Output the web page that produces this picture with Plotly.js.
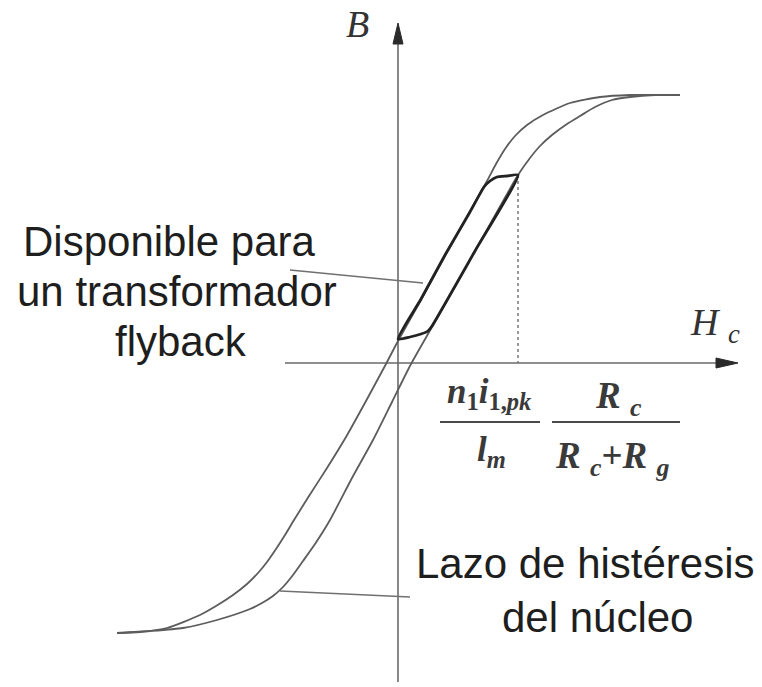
<!DOCTYPE html>
<html>
<head>
<meta charset="utf-8">
<script src="https://cdn.plot.ly/plotly-3.0.1.min.js"></script>
<style>
  html, body { margin: 0; padding: 0; background: #ffffff; }
  #chart { width: 762px; height: 687px; }
</style>
</head>
<body>
<div id="chart"></div>
<script>
// Core B-H hysteresis loop (field H to the right, flux density B upward).
// Descending (left-hand) branch, from negative to positive saturation.
const descendingH = [-281, -258, -231, -198, -182, -165, -151, -140, -131, -122, -113, -104, -89, -71, -52, -32, -12, 0, 23, 47, 72, 89, 98, 107, 117, 129, 145, 172, 202, 232, 282];
const descendingB = [-270, -269, -265, -252, -243, -232, -221, -210, -199, -186, -172, -157, -133, -105, -74, -38, -1, 22, 63, 107, 152, 182, 199, 214, 227, 238, 248, 260, 266, 268, 268];

// Ascending (right-hand) branch.
const ascendingH = [-281, -248, -215, -181, -148, -136, -125, -115, -105, -95, -83, -68, -46, -25, -6, 13, 34, 77, 120, 132, 142, 154, 169, 182, 197, 214, 232, 257, 282];
const ascendingB = [-270, -268, -265, -257, -246, -240, -233, -224, -212, -198, -181, -157, -115, -77, -39, -1, 36, 112, 188, 205, 217, 228, 239, 247, 256, 263, 266, 268, 268];

// Minor loop available to a flyback transformer.
const flybackH = [0, 23, 47, 72, 86, 92, 99, 109, 120, 77, 34, 30, 23, 12, 0];
const flybackB = [24, 64, 108, 151, 176, 182, 186, 187, 188, 112, 37, 32, 29, 26, 24];

// Peak field of the flyback operating point.
const peakH = [120, 120];
const peakB = [188, 0];

// Axes and arrow heads.
const hAxisH = [-113, 322];
const hAxisB = [0, 0];
const hArrowH = [318, 340, 318, 318];
const hArrowB = [5, 0, -5, 5];
const bAxisH = [0, 0];
const bAxisB = [-319, 322];
const bArrowH = [-5, 0, 5, -5];
const bArrowB = [319, 340, 319, 319];

// Leader lines from the labels.
const flybackLeaderH = [-108, 25];
const flybackLeaderB = [93, 80];
const loopLeaderH = [-118, 12];
const loopLeaderB = [-228, -234];

// Fraction bars of the peak-field expression.
const bar1H = [42, 142];
const bar1B = [-59, -59];
const bar2H = [154, 282];
const bar2B = [-59, -59];

// Label texts.
const flybackLabel = ['Disponible para', 'un transformador', 'flyback'];
const loopLabel = ['Lazo de histéresis', 'del núcleo'];

function line(x, y, color, width, extra) {
  return Object.assign({
    type: 'scatter', mode: 'lines', x: x, y: y, hoverinfo: 'skip',
    line: { color: color, width: width }
  }, extra || {});
}

const branchLine = { color: '#5c5c5c', width: 1.8, shape: 'spline', smoothing: 0.6 };

const traces = [
  line(hAxisH, hAxisB, '#6a6a6a', 1.6),
  line(bAxisH, bAxisB, '#6a6a6a', 1.6),
  line(hArrowH, hArrowB, '#2a2a2a', 1, { fill: 'toself', fillcolor: '#2a2a2a' }),
  line(bArrowH, bArrowB, '#2a2a2a', 1, { fill: 'toself', fillcolor: '#2a2a2a' }),
  line(peakH, peakB, '#6e6e6e', 1.4, { line: { color: '#6e6e6e', width: 1.4, dash: 'dot' } }),
  line(descendingH, descendingB, '#5c5c5c', 1.8, { line: branchLine }),
  line(ascendingH, ascendingB, '#5c5c5c', 1.8, { line: branchLine }),
  line(flybackH, flybackB, '#222222', 2.8, { line: { color: '#222222', width: 2.8, shape: 'spline', smoothing: 0.5 } }),
  line(flybackLeaderH, flybackLeaderB, '#707070', 1.6),
  line(loopLeaderH, loopLeaderB, '#707070', 1.6),
  line(bar1H, bar1B, '#4a4a4a', 2.2),
  line(bar2H, bar2B, '#4a4a4a', 2.2)
];

const sans = { family: 'Liberation Sans, Arial, sans-serif', size: 42, color: '#1e1e1e' };
const serif = { family: 'Liberation Serif, Times New Roman, serif', size: 38, color: '#333333' };
const formulaA = { family: 'Liberation Serif, Times New Roman, serif', size: 35, color: '#3a3a3a' };
const formulaB = { family: 'Liberation Serif, Times New Roman, serif', size: 37, color: '#3a3a3a' };

function label(text, x, y, font) {
  return { text: text, x: x, y: y, xref: 'x', yref: 'y', showarrow: false,
           xanchor: 'center', yanchor: 'middle', font: font };
}

const annotations = [
  label(flybackLabel[0], -229.5, 122, sans),
  label(flybackLabel[1], -221.5, 72, sans),
  label(flybackLabel[2], -217, 22, sans),
  label(loopLabel[0], 187, -200, sans),
  label(loopLabel[1], 199, -254, sans),
  label('<i>B</i>', -41, 339, serif),
  label('<i>H</i> <sub><i>c</i></sub>', 317, 38, serif),
  label('<b><i>n</i></b><sub><b>1</b></sub><b><i>i</i></b><sub><b>1,<i>pk</i></b></sub>', 91, -30, formulaA),
  label('<b><i>l</i></b><sub><b><i>m</i></b></sub>', 93, -88, formulaA),
  label('<b><i>R</i></b> <sub><b><i>c</i></b></sub>', 220, -35, formulaB),
  label('<b><i>R</i></b> <sub><b><i>c</i></b></sub><b>+<i>R</i></b> <sub><b><i>g</i></b></sub>', 214, -95, formulaB)
];

const layout = {
  width: 762, height: 687,
  margin: { l: 0, r: 0, t: 0, b: 0, pad: 0 },
  paper_bgcolor: '#ffffff', plot_bgcolor: '#ffffff',
  showlegend: false,
  xaxis: { range: [-398, 364], visible: false, fixedrange: true },
  yaxis: { range: [-324, 363], visible: false, fixedrange: true },
  annotations: annotations
};

Plotly.newPlot('chart', traces, layout, { displayModeBar: false, staticPlot: true });
</script>
</body>
</html>
